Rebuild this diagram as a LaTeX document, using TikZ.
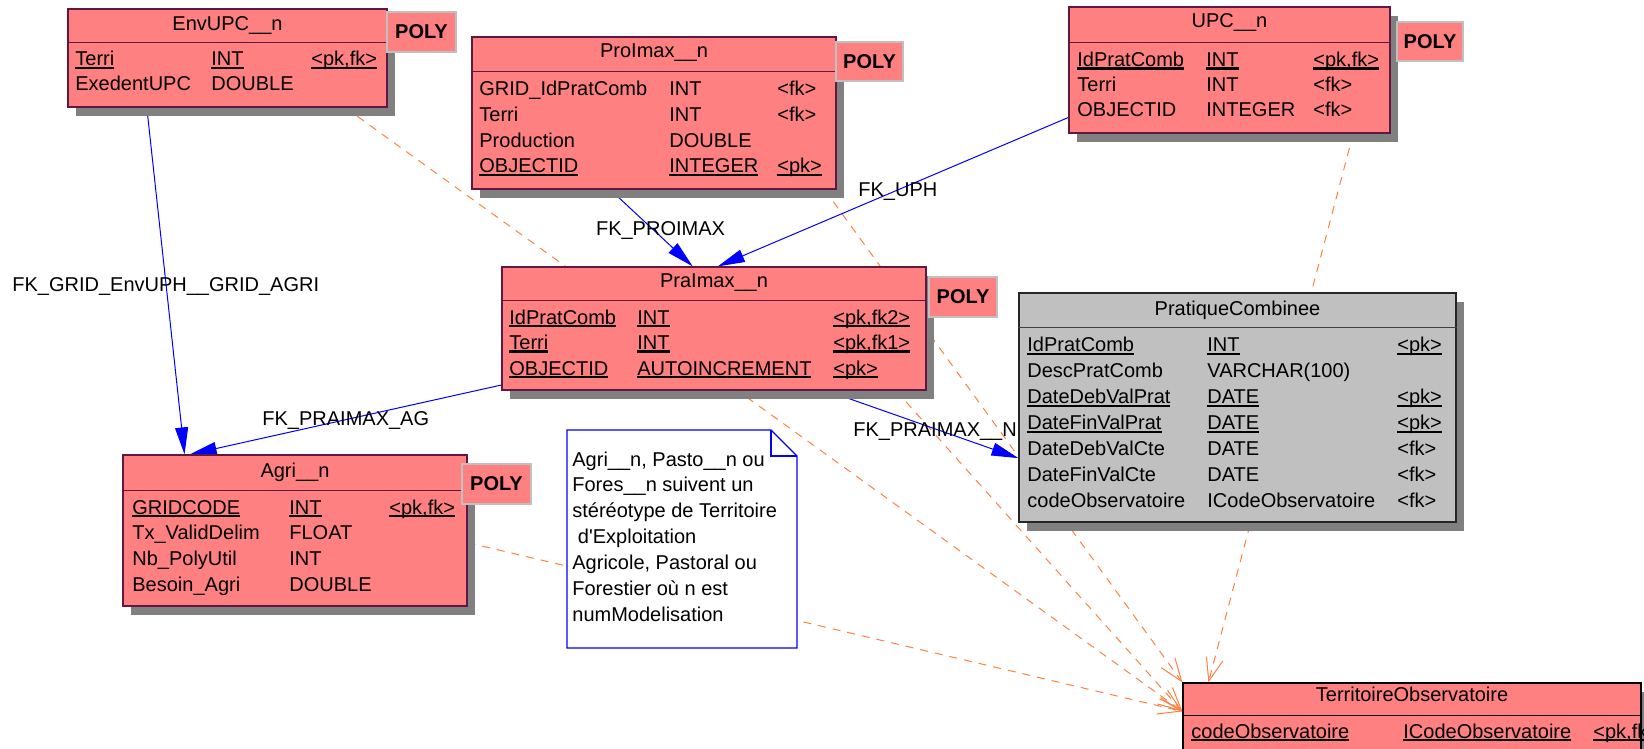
\documentclass[tikz,border=0pt]{standalone}
\usepackage{fontspec}
\setmainfont{Liberation Sans}
\usetikzlibrary{arrows.meta, calc, fit, shadows, backgrounds}
\definecolor{polyred}{RGB}{255,128,128}
\definecolor{edgered}{RGB}{96,24,64}
\definecolor{tabgray}{RGB}{192,192,192}
\definecolor{shadowgray}{RGB}{128,128,128}
\definecolor{fkblue}{RGB}{0,0,255}
\definecolor{deporange}{RGB}{255,128,64}

% key columns are underlined right under the baseline
\newcommand{\keyul}[1]{\setbox0\hbox{#1}\rlap{\rule[-1.5pt]{\wd0}{1.1pt}}\box0}

\begin{document}
\begin{tikzpicture}[x=0.5pt, y=-0.5pt,
  txt/.style={font=\fontsize{10}{12}\selectfont, inner sep=0pt},
  entity/.style={draw=edgered, fill=polyred, line width=0.6pt, inner sep=0pt,
    drop shadow={shadow xshift=4pt, shadow yshift=-4.5pt, fill=shadowgray, opacity=1}},
  head/.style={edgered, line width=0.6pt},
  poly/.style={draw=tabgray, fill=polyred, line width=0.6pt, inner sep=0pt},
  polytxt/.style={font=\fontsize{10}{12}\selectfont\bfseries, inner sep=0pt},
  fk/.style={fkblue, line width=0.5pt, -{Triangle[length=13.5pt, width=6.5pt]}},
  dep/.style={deporange, line width=0.5pt, dash pattern=on 4pt off 3.5pt,
    -{Straight Barb[length=11.5pt, width=8.5pt]}}]
\path[use as bounding box, clip] (0,0) rectangle (1644,749);

%EnvUPC__n
\node[entity, fit={(68,9) (387,107)}] (envupc) {};
\draw[head] ([yshift=-17pt]envupc.north west) -- ([yshift=-17pt]envupc.north east);
\node[txt, anchor=base] (envupc-t) at ($(envupc.north)+(0,21.7)$) {EnvUPC\_\_n};
\foreach \a/\b/\c [count=\i from 0] in {\keyul{Terri}/\keyul{INT}/\keyul{<pk,fk>}, ExedentUPC/DOUBLE/{}} {
  \node[txt, anchor=base west] (envupc-n\i) at (75, 66+25*\i) {\a};
  \node[txt, anchor=base west] (envupc-y\i) at (211, 66+25*\i) {\b};
  \node[txt, anchor=base west] (envupc-k\i) at (311, 66+25*\i) {\c};
}
\node[poly, fit={(387,12) (456,52)}] (envupc-poly) {};
\node[polytxt] (envupc-pt) at (envupc-poly.center) {POLY};

%ProImax__n
\node[entity, fit={(472,37) (836,189)}] (proimax) {};
\draw[head] ([yshift=-17.5pt]proimax.north west) -- ([yshift=-17.5pt]proimax.north east);
\node[txt, anchor=base] (proimax-t) at ($(proimax.north)+(0,20.7)$) {ProImax\_\_n};
\foreach \a/\b/\c [count=\i from 0] in {GRID\_IdPratComb/INT/<fk>, Terri/INT/<fk>, Production/DOUBLE/{},
    \keyul{OBJECTID}/\keyul{INTEGER}/\keyul{<pk>}} {
  \node[txt, anchor=base west] (proimax-n\i) at (479, 96+25.6*\i) {\a};
  \node[txt, anchor=base west] (proimax-y\i) at (669, 96+25.6*\i) {\b};
  \node[txt, anchor=base west] (proimax-k\i) at (777, 96+25.6*\i) {\c};
}
\node[poly, fit={(836,42) (903,81)}] (proimax-poly) {};
\node[polytxt] (proimax-pt) at (proimax-poly.center) {POLY};

%UPC__n
\node[entity, fit={(1069,7) (1390,133)}] (upc) {};
\draw[head] ([yshift=-18pt]upc.north west) -- ([yshift=-18pt]upc.north east);
\node[txt, anchor=base] (upc-t) at ($(upc.north)+(0,21.3)$) {UPC\_\_n};
\foreach \a/\b/\c [count=\i from 0] in {\keyul{IdPratComb}/\keyul{INT}/\keyul{<pk,fk>}, Terri/INT/<fk>,
    OBJECTID/INTEGER/<fk>} {
  \node[txt, anchor=base west] (upc-n\i) at (1077, 66.7+25*\i) {\a};
  \node[txt, anchor=base west] (upc-y\i) at (1206, 66.7+25*\i) {\b};
  \node[txt, anchor=base west] (upc-k\i) at (1313, 66.7+25*\i) {\c};
}
\node[poly, fit={(1397,22) (1463,61)}] (upc-poly) {};
\node[polytxt] (upc-pt) at (upc-poly.center) {POLY};

%PraImax__n
\node[entity, fit={(502,267) (926,390)}] (praimax) {};
\draw[head] ([yshift=-17pt]praimax.north west) -- ([yshift=-17pt]praimax.north east);
\node[txt, anchor=base] (praimax-t) at ($(praimax.north)+(0,20.7)$) {PraImax\_\_n};
\foreach \a/\b/\c [count=\i from 0] in {\keyul{IdPratComb}/\keyul{INT}/\keyul{<pk,fk2>},
    \keyul{Terri}/\keyul{INT}/\keyul{<pk,fk1>}, \keyul{OBJECTID}/\keyul{AUTOINCREMENT}/\keyul{<pk>}} {
  \node[txt, anchor=base west] (praimax-n\i) at (509, 324+25.5*\i) {\a};
  \node[txt, anchor=base west] (praimax-y\i) at (637, 324+25.5*\i) {\b};
  \node[txt, anchor=base west] (praimax-k\i) at (833, 324+25.5*\i) {\c};
}
\node[poly, fit={(929,277) (997,317)}] (praimax-poly) {};
\node[polytxt] (praimax-pt) at (praimax-poly.center) {POLY};

%PratiqueCombinee
\node[entity, draw=black!85, fill=tabgray, fit={(1019,293) (1456,522)}] (pratcomb) {};
\draw[black!75, line width=0.6pt] ([yshift=-17.5pt]pratcomb.north west) -- ([yshift=-17.5pt]pratcomb.north east);
\node[txt, anchor=base] (pratcomb-t) at ($(pratcomb.north)+(0,22.7)$) {PratiqueCombinee};
\foreach \a/\b/\c [count=\i from 0] in {\keyul{IdPratComb}/\keyul{INT}/\keyul{<pk>}, DescPratComb/VARCHAR(100)/{},
    \keyul{DateDebValPrat}/\keyul{DATE}/\keyul{<pk>}, \keyul{DateFinValPrat}/\keyul{DATE}/\keyul{<pk>},
    DateDebValCte/DATE/<fk>, DateFinValCte/DATE/<fk>, codeObservatoire/ICodeObservatoire/<fk>} {
  \node[txt, anchor=base west] (pratcomb-n\i) at (1027, 351.7+26*\i) {\a};
  \node[txt, anchor=base west] (pratcomb-y\i) at (1207, 351.7+26*\i) {\b};
  \node[txt, anchor=base west] (pratcomb-k\i) at (1397, 351.7+26*\i) {\c};
}

%Agri__n
\node[entity, fit={(123,455) (467,606)}] (agri) {};
\draw[head] ([yshift=-18pt]agri.north west) -- ([yshift=-18pt]agri.north east);
\node[txt, anchor=base] (agri-t) at ($(agri.north)+(0,23.3)$) {Agri\_\_n};
\foreach \a/\b/\c [count=\i from 0] in {\keyul{GRIDCODE}/\keyul{INT}/\keyul{<pk,fk>}, Tx\_ValidDelim/FLOAT/{},
    Nb\_PolyUtil/INT/{}, Besoin\_Agri/DOUBLE/{}} {
  \node[txt, anchor=base west] (agri-n\i) at (132, 514+25.7*\i) {\a};
  \node[txt, anchor=base west] (agri-y\i) at (289, 514+25.7*\i) {\b};
  \node[txt, anchor=base west] (agri-k\i) at (389, 514+25.7*\i) {\c};
}
\node[poly, fit={(462,464) (531,504)}] (agri-poly) {};
\node[polytxt] (agri-pt) at (agri-poly.center) {POLY};

%TerritoireObservatoire
\node[entity, draw=black, fit={(1183,683) (1641,800)}] (terrobs) {};
\draw[black, line width=0.6pt] ([yshift=-16.5pt]terrobs.north west) -- ([yshift=-16.5pt]terrobs.north east);
\node[txt, anchor=base] (terrobs-t) at ($(terrobs.north)+(0,18.7)$) {TerritoireObservatoire};
\node[txt, anchor=base west] (terrobs-n0) at (1191, 738) {\keyul{codeObservatoire}};
\node[txt, anchor=base west] (terrobs-y0) at (1403, 738) {\keyul{ICodeObservatoire}};
\node[txt, anchor=base west] (terrobs-k0) at (1593, 738) {\keyul{<pk,fk>}};

%note
\filldraw[fkblue, fill=white, line width=0.6pt] (567,430) -- (771,430) -- (797,456) -- (797,648) -- (567,648) -- cycle;
\draw[fkblue, line width=0.6pt] (771,430) -- (771,456) -- (797,456);
\foreach \ln [count=\i from 0] in {{Agri\_\_n, Pasto\_\_n ou}, {Fores\_\_n suivent un},
    {stéréotype de Territoire}, {\ d\textquotesingle Exploitation}, {Agricole, Pastoral ou},
    {Forestier où n est}, {numModelisation}} {
  \node[txt, anchor=base west] (note-\i) at (572, 466+25.9*\i) {\ln};
}

\begin{scope}[on background layer]
  %dependencies
  \draw[dep] ($(envupc.south west)!0.868!(envupc.south east)$) -- ($(terrobs.north west)+(0,29)$);
  \draw[dep] ($(proimax.south west)!0.967!(proimax.south east)$) -- (terrobs.north west);
  \draw[dep] ($(upc.south west)!0.884!(upc.south east)$) -- ($(terrobs.north west)+(26,0)$);
  \draw[dep] ($(praimax.south west)!0.928!(praimax.south east)$) -- ($(terrobs.north west)+(0,29)$);
  \draw[dep] ($(agri.north east)!0.58!(agri.south east)$) -- ($(terrobs.north west)+(0,29)$);

  %foreign keys
  \draw[fk] ($(envupc.south west)!0.248!(envupc.south east)$) -- ($(agri.north west)!0.18!(agri.north east)$);
  \draw[fk] ($(praimax.north west)!0.955!(praimax.south west)$) -- ($(agri.north west)!0.195!(agri.north east)$);
  \draw[fk] ($(proimax.south west)!0.38!(proimax.south east)$) -- ($(praimax.north west)!0.45!(praimax.north east)$);
  \draw[fk] ($(upc.north west)!0.873!(upc.south west)$) -- ($(praimax.north west)!0.509!(praimax.north east)$);
  \draw[fk] ($(praimax.south west)!0.764!(praimax.south east)$) -- ($(pratcomb.north west)!0.72!(pratcomb.south west)$);

  \node[txt, anchor=base west] (fk-grid) at (12, 291.7) {FK\_GRID\_EnvUPH\_\_GRID\_AGRI};
  \node[txt, anchor=base west] (fk-ag) at (262, 425) {FK\_PRAIMAX\_AG};
  \node[txt, anchor=base] (fk-proimax) at (660.5, 235.6) {FK\_PROIMAX};
  \node[txt, anchor=base west] (fk-uph) at (858, 196.7) {FK\_UPH};
  \node[txt, anchor=base west] (fk-n) at (853, 436) {FK\_PRAIMAX\_\_N};
\end{scope}
\end{tikzpicture}
\end{document}
